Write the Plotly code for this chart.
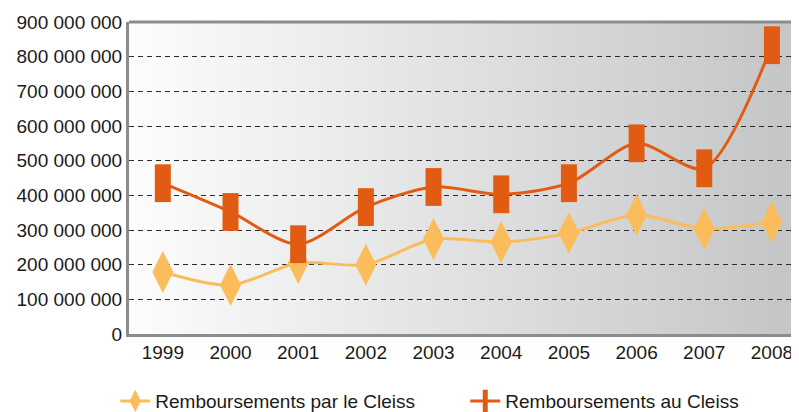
import plotly.graph_objects as go

years = ["1999", "2000", "2001", "2002", "2003", "2004", "2005", "2006", "2007", "2008"]
par_le_cleiss = [179e6, 141e6, 205e6, 200e6, 274e6, 265e6, 291e6, 343e6, 303e6, 323e6]
au_cleiss = [435e6, 352e6, 259e6, 366e6, 424e6, 403e6, 435e6, 550e6, 478e6, 833e6]
ytick_vals = [0, 100e6, 200e6, 300e6, 400e6, 500e6, 600e6, 700e6, 800e6, 900e6]
ytick_text = ["0", "100 000 000", "200 000 000", "300 000 000", "400 000 000",
              "500 000 000", "600 000 000", "700 000 000", "800 000 000", "900 000 000"]

YELLOW = "#fbbd5c"
ORANGE = "#e25b12"
FONT = "Liberation Sans, Arial, Helvetica, sans-serif"

fig = go.Figure()
fig.add_trace(go.Scatter(
    x=years, y=par_le_cleiss, name="Remboursements par le Cleiss",
    mode="lines+markers",
    line=dict(color=YELLOW, width=3, shape="spline", smoothing=0.8),
    marker=dict(symbol="diamond-tall", size=30, color=YELLOW, line=dict(width=0)),
))
fig.add_trace(go.Scatter(
    x=years, y=au_cleiss, name="Remboursements au Cleiss",
    mode="lines+markers",
    line=dict(color=ORANGE, width=3, shape="spline", smoothing=0.8),
    marker=dict(symbol="line-ns", size=27, color=ORANGE,
                line=dict(width=16, color=ORANGE)),
))

# background gradient (white -> grey) inside the plot area
shapes = []
n = 80
c0 = (252, 252, 252)
c1 = (196, 197, 199)
for i in range(n):
    t = i / (n - 1)
    r, g, b = [int(round(a + (bb - a) * t)) for a, bb in zip(c0, c1)]
    shapes.append(dict(type="rect", xref="paper", yref="paper",
                       x0=i / n, x1=(i + 1) / n + 0.002, y0=0, y1=1,
                       fillcolor=f"rgb({r},{g},{b})", line=dict(width=0),
                       layer="below"))
shapes.append(dict(type="line", xref="paper", yref="paper", x0=0, x1=1.01,
                   y0=1, y1=1, line=dict(color="#8c8c8c", width=3)))

fig.update_layout(
    width=791, height=404,
    margin=dict(l=121, r=0, t=14, b=78, autoexpand=False),
    paper_bgcolor="white",
    plot_bgcolor="rgba(0,0,0,0)",
    font=dict(family=FONT, size=19, color="#1a1a1a"),
    shapes=shapes,
    showlegend=True,
    legend=dict(orientation="h", x=-0.0205, xanchor="left", y=-0.215,
                yanchor="middle", font=dict(size=19, color="#1a1a1a"),
                bgcolor="rgba(0,0,0,0)", entrywidth=305, entrywidthmode="pixels",
                itemsizing="trace"),
    xaxis=dict(type="category", range=[-0.5, 9.4], showgrid=False,
               showline=True, linecolor="#8c8c8c", linewidth=3,
               ticks="", ticklabelstandoff=-1,
               tickfont=dict(size=19), zeroline=False),
    yaxis=dict(range=[0, 900e6], tickvals=ytick_vals, ticktext=ytick_text,
               showgrid=True, gridcolor="#2a2a2a", griddash="5px,4px", gridwidth=1,
               showline=True, linecolor="#8c8c8c", linewidth=3,
               ticks="", ticklabelstandoff=0,
               tickfont=dict(size=19), zeroline=False),
)

fig.write_html("out.html")
